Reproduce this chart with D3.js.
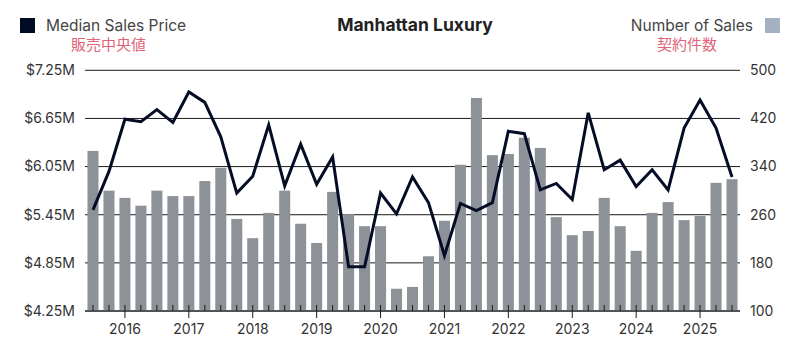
<!DOCTYPE html>
<html><head><meta charset="utf-8">
<script src="https://cdn.jsdelivr.net/npm/d3@7"></script>
<style>
body{margin:0;background:#fff;}
svg{display:block;font-family:Inter,"Noto Sans",sans-serif;}
</style></head><body>
<svg id="c" width="794" height="343"></svg>
<script>
const quarters = [];
for (let y = 2015; y <= 2025; y++) for (let q = 1; q <= 4; q++) {
  if ((y === 2015 && q < 3) || (y === 2025 && q > 3)) continue;
  quarters.push(y + "Q" + q);
}
const salesCount = [366,300,288,275,300,291,291,316,338,253,221,263,300,245,213,
  298,261,241,241,137,140,191,250,343,454,359,361,388,371,
  256,226,233,288,241,200,263,281,251,258,313,319];
const medianPrice = [5.51,5.99,6.64,6.61,6.76,6.60,6.98,6.85,6.42,5.72,5.93,6.57,5.81,6.33,5.83,
  6.17,4.80,4.80,5.72,5.46,5.92,5.60,4.94,5.59,5.50,5.60,6.49,6.46,
  5.76,5.84,5.64,6.72,6.01,6.13,5.80,6.01,5.76,6.53,6.88,6.53,5.92];
const priceTicks = [4.25,4.85,5.45,6.05,6.65,7.25];
const countTicks = [100,180,260,340,420,500];
const yearLabels = [2016,2017,2018,2019,2020,2021,2022,2023,2024,2025];

const svg = d3.select("#c");
const L = 85, R = 740, T = 70.3, B = 311;
const x = d3.scaleBand().domain(quarters).range([L, R]).paddingInner(0.31).paddingOuter(0.155);
const yP = d3.scaleLinear().domain([4.25, 7.25]).range([B, T]);
const yC = d3.scaleLinear().domain([100, 500]).range([B, T]);
const cx = q => x(q) + x.bandwidth() / 2;

svg.append("g").selectAll("line").data(priceTicks).join("line")
  .attr("x1", L).attr("x2", R).attr("y1", d => yP(d)).attr("y2", d => yP(d))
  .attr("stroke", "#1a1a1a").attr("stroke-width", 1);

svg.append("g").selectAll("rect").data(salesCount).join("rect")
  .attr("x", (d, i) => x(quarters[i])).attr("width", x.bandwidth())
  .attr("y", d => yC(d)).attr("height", d => B - yC(d))
  .attr("fill", "#8d9198");

svg.append("line").attr("x1", L).attr("x2", R).attr("y1", B).attr("y2", B).attr("stroke", "#1a1a1a");
svg.append("g").selectAll("line").data(quarters).join("line")
  .attr("x1", cx).attr("x2", cx)
  .attr("y1", d => d.endsWith("Q1") ? B + 7 : B)
  .attr("y2", B - 6).attr("stroke", "#1a1a1a").attr("stroke-width", 1);

const line = d3.line().x((d, i) => cx(quarters[i])).y(d => yP(d));
svg.append("path").datum(medianPrice).attr("d", line)
  .attr("fill", "none").attr("stroke", "#050d26").attr("stroke-width", 3).attr("stroke-linejoin", "miter");

svg.append("g").selectAll("text").data(priceTicks).join("text")
  .attr("x", 75).attr("y", d => yP(d)).attr("dy", "0.35em").attr("text-anchor", "end")
  .attr("font-size", 14).attr("fill", "#333").text(d => "$" + d.toFixed(2) + "M");
svg.append("g").selectAll("text").data(countTicks).join("text")
  .attr("x", 750).attr("y", d => yC(d)).attr("dy", "0.35em").attr("text-anchor", "start")
  .attr("font-size", 14).attr("fill", "#333").text(d => d);
svg.append("g").selectAll("text").data(yearLabels).join("text")
  .attr("x", d => cx(d + "Q1")).attr("y", 334).attr("text-anchor", "middle")
  .attr("font-size", 14).attr("fill", "#333").text(d => d);

svg.append("rect").attr("x", 20).attr("y", 18).attr("width", 15).attr("height", 15).attr("fill", "#000b24");
svg.append("text").attr("x", 46).attr("y", 30.5).attr("font-size", 15.5).attr("fill", "#444").text("Median Sales Price");
svg.append("text").attr("x", 71).attr("y", 49.5).attr("font-size", 15).attr("fill", "#e0647a").attr("font-family", "Noto Sans CJK JP").text("販売中央値");
svg.append("rect").attr("x", 765).attr("y", 18).attr("width", 15).attr("height", 15).attr("fill", "#a3b1c2");
svg.append("text").attr("x", 753).attr("y", 30.5).attr("text-anchor", "end").attr("font-size", 15.5).attr("fill", "#444").text("Number of Sales");
svg.append("text").attr("x", 717).attr("y", 49.5).attr("text-anchor", "end").attr("font-size", 15).attr("fill", "#e0647a").attr("font-family", "Noto Sans CJK JP").text("契約件数");
svg.append("text").attr("x", 415).attr("y", 31).attr("text-anchor", "middle").attr("font-size", 17.5).attr("font-weight", "bold").attr("fill", "#222").text("Manhattan Luxury");
</script>
</body></html>
